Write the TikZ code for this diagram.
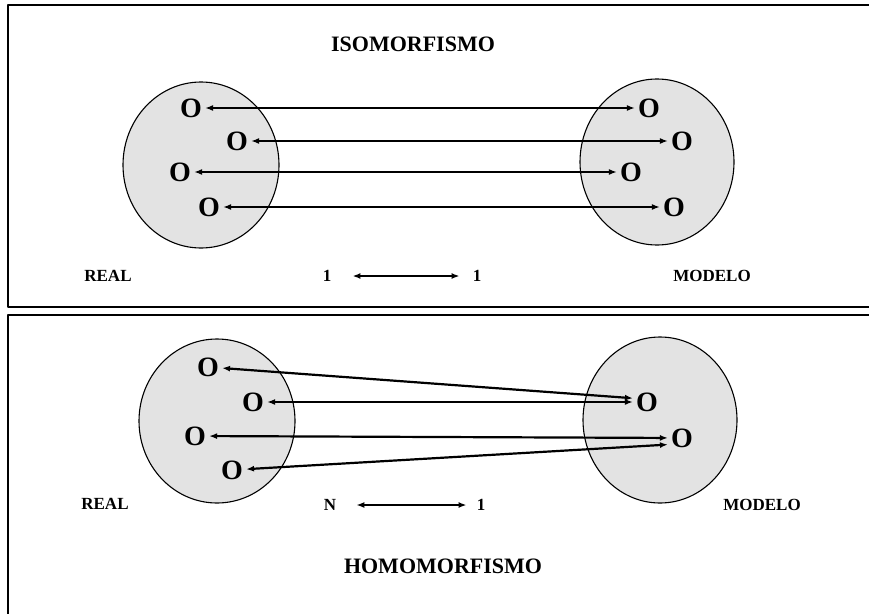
\documentclass[tikz,border=0pt]{standalone}
\usepackage{fontspec}
\setmainfont{Liberation Serif}
\usetikzlibrary{arrows.meta}

\begin{document}
\begin{tikzpicture}[x=1pt, y=-1pt, line cap=round, line join=round,
    elem/.style={inner sep=3pt, font=\fontsize{28}{30}\selectfont\bfseries},
    tag/.style={inner sep=2pt, font=\fontsize{17}{19}\selectfont\bfseries},
    heading/.style={inner sep=0pt, font=\fontsize{22}{25}\selectfont\bfseries},
    link/.style={line width=2.2pt, {Latex[length=8pt,width=6pt]}-{Latex[length=8pt,width=6pt]}},
    blob/.style={draw, line width=1.1pt, fill=black!11}]

  % fix the canvas first
  \path[use as bounding box] (0,0) rectangle (869,613);

  % ── two frames, right/bottom edges run off the page ──
  \draw[line width=1.4pt] (8,5) rectangle (885,307);
  \draw[line width=1.4pt] (8,315) rectangle (885,630);

  % ── ISOMORFISMO ──
  \node[heading] (isoTitle) at (413,44) {ISOMORFISMO};

  \filldraw[blob] (201,165) ellipse [x radius=78, y radius=83];
  \filldraw[blob] (657,162) ellipse [x radius=77, y radius=83];

  % left set (REAL) and right set (MODELO): name/x/y
  \foreach \n/\x/\y in {1/191/108, 2/237/141, 3/180/172, 4/209/207}
    \node[elem] (isoR\n) at (\x,\y) {O};
  \foreach \n/\x/\y in {1/649/108, 2/682/141, 3/631/172, 4/674/207}
    \node[elem] (isoM\n) at (\x,\y) {O};

  \foreach \n in {1,...,4}
    \draw[link] (isoR\n) -- (isoM\n);

  \node[tag] (isoReal)  at (108,276) {REAL};
  \node[tag] (isoLeft)  at (327,276) {1};
  \node[tag] (isoRight) at (477,276) {1};
  \node[tag] (isoModel) at (712,276) {MODELO};
  \draw[link, line width=1.8pt, shorten <=19pt, shorten >=11pt] (isoLeft) -- (isoRight);

  % ── HOMOMORFISMO ──
  \filldraw[blob] (217,421) ellipse [x radius=78, y radius=82];
  \filldraw[blob] (660,420) ellipse [x radius=77, y radius=83];

  \foreach \n/\x/\y in {1/208/367, 2/253/402, 3/195/436, 4/232/470}
    \node[elem] (homR\n) at (\x,\y) {O};
  \node[elem] (homMa) at (647,402) {O};
  \node[elem] (homMb) at (682,438) {O};

  % N elementos -> 1 : dos flechas a cada O del modelo
  \draw[link] (homR1) -- (homMa.165);
  \draw[link] (homR2) -- (homMa);
  \draw[link] (homR3) -- (homMb);
  \draw[link] (homR4) -- (homMb.205);

  \node[tag] (homReal)  at (105,504) {REAL};
  \node[tag] (homLeft)  at (330,505) {N};
  \node[tag] (homRight) at (481,505) {1};
  \node[tag] (homModel) at (762,505) {MODELO};
  \draw[link, line width=1.8pt, shorten <=18pt, shorten >=8pt] (homLeft) -- (homRight);

  \node[heading] (homTitle) at (443,566) {HOMOMORFISMO};
\end{tikzpicture}
\end{document}
